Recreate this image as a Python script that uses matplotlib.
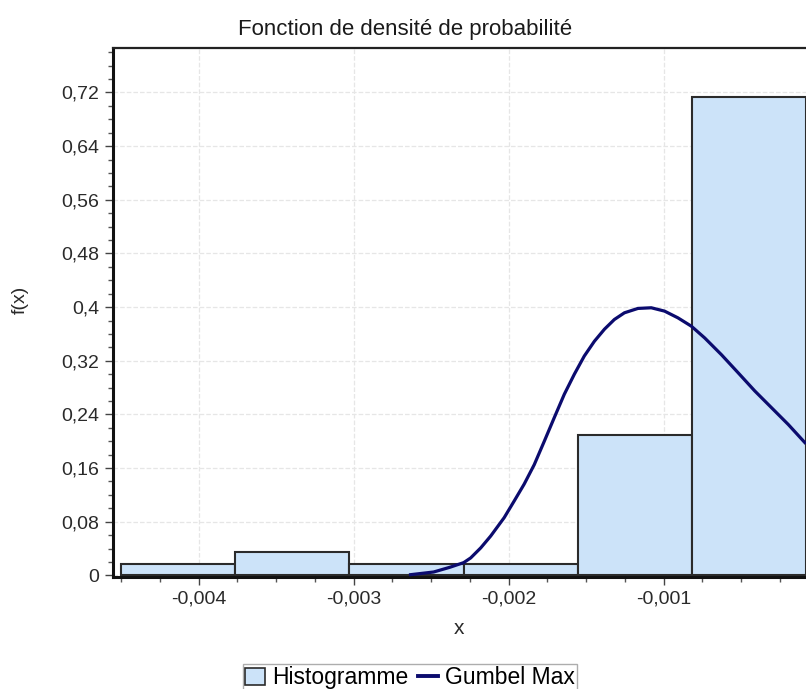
import matplotlib.pyplot as plt
from matplotlib.patches import Patch
from matplotlib.lines import Line2D

plt.rcParams["font.family"] = ["Liberation Sans", "DejaVu Sans"]

# histogramme (fréquences relatives)
bin_edges = [-0.004500, -0.003764, -0.003028, -0.002291, -0.001555, -0.000819, -0.000082]
freq = [0.0172, 0.0345, 0.0172, 0.0172, 0.209, 0.713]

# courbe Gumbel Max (points relevés)
gumbel_x = [-0.002633, -0.002484, -0.002380, -0.002290, -0.002245, -0.002180,
            -0.002116, -0.002029, -0.001964, -0.001900, -0.001835, -0.001770,
            -0.001706, -0.001641, -0.001576, -0.001512, -0.001447, -0.001382,
            -0.001318, -0.001253, -0.001166, -0.001080, -0.000994, -0.000908,
            -0.000821, -0.000735, -0.000627, -0.000519, -0.000412, -0.000304,
            -0.000196, -0.000089]
gumbel_y = [0.001, 0.005, 0.012, 0.019, 0.026, 0.041,
            0.0586, 0.086, 0.111, 0.136, 0.165, 0.200,
            0.235, 0.270, 0.300, 0.327, 0.349, 0.367,
            0.3815, 0.3915, 0.398, 0.399, 0.394, 0.384,
            0.3715, 0.354, 0.329, 0.302, 0.275, 0.250,
            0.225, 0.198]

x_ticks = [-0.004, -0.003, -0.002, -0.001]
x_labels = ["-0,004", "-0,003", "-0,002", "-0,001"]
y_ticks = [0, 0.08, 0.16, 0.24, 0.32, 0.4, 0.48, 0.56, 0.64, 0.72]
y_labels = ["0", "0,08", "0,16", "0,24", "0,32", "0,4", "0,48", "0,56", "0,64", "0,72"]

fig = plt.figure(figsize=(8.06, 6.89), dpi=100)
ax = fig.add_axes([0.140, 0.163, 0.862, 0.767])

widths = [bin_edges[i + 1] - bin_edges[i] for i in range(len(freq))]
ax.bar(bin_edges[:-1], freq, width=widths, align="edge", color="#cce3f9",
       edgecolor="#2b2b2b", linewidth=1.5, zorder=2)
ax.plot(gumbel_x, gumbel_y, color="#0b0b6e", linewidth=2.3, zorder=3,
        solid_joinstyle="round")

ax.set_xticks(x_ticks)
ax.set_xticklabels(x_labels)
ax.set_yticks(y_ticks)
ax.set_yticklabels(y_labels)
ax.set_xticks([-0.0045 + 0.00025 * i for i in range(18)], minor=True)
ax.set_yticks([0.02 * i for i in range(40)], minor=True)

# limites après les ticks, sinon les ticks mineurs les élargissent
ax.set_xlim(-0.004554, -0.000071)
ax.set_ylim(-0.002, 0.786)

ax.tick_params(which="major", length=6, width=1, color="#444444",
               labelsize=14, labelcolor="#2a2a2a", pad=4)
ax.tick_params(which="minor", length=3.5, width=1, color="#555555")

ax.grid(True, which="major", linestyle="--", color="#e6e6e6", linewidth=0.9, zorder=0)
ax.set_axisbelow(True)

for side in ["left", "bottom"]:
    ax.spines[side].set_linewidth(2.2)
    ax.spines[side].set_color("#111111")
ax.spines["top"].set_linewidth(1.6)
ax.spines["top"].set_color("#222222")
ax.spines["right"].set_visible(False)

fig.text(405 / 806, 1 - 30 / 689, "Fonction de densité de probabilité",
         ha="center", va="center", fontsize=16, color="#1a1a1a")
fig.text(20 / 806, 1 - 300 / 689, "f(x)", ha="center", va="center",
         rotation=90, fontsize=14, color="#2a2a2a")
fig.text(459 / 806, 1 - 628 / 689, "x", ha="center", va="center",
         fontsize=15, color="#2a2a2a")

handles = [Patch(facecolor="#cce3f9", edgecolor="#2b2b2b", linewidth=1.2),
           Line2D([], [], color="#0b0b6e", linewidth=2.8)]
leg = fig.legend(handles, ["Histogramme", "Gumbel Max"], ncol=2,
                 loc="upper center", bbox_to_anchor=(410 / 806, 1 - 664 / 689),
                 fontsize=16.5, frameon=True, fancybox=False, borderpad=0.1,
                 handlelength=0.9, handleheight=0.8, handletextpad=0.3,
                 columnspacing=0.4, borderaxespad=0)
leg.get_frame().set_edgecolor("#999999")
leg.get_frame().set_linewidth(1.0)

fig.savefig("out.png", dpi=100)
